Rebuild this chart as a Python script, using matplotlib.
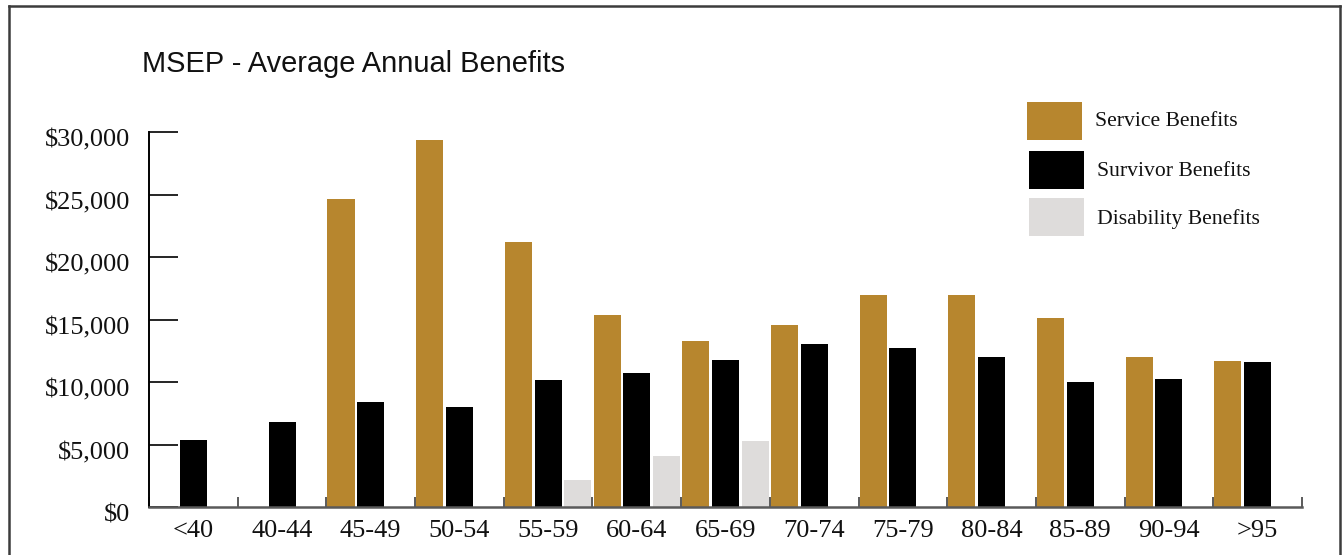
import matplotlib
matplotlib.use("Agg")
import matplotlib.pyplot as plt
import matplotlib.transforms as mtransforms
from matplotlib.patches import Rectangle
from matplotlib.lines import Line2D
from matplotlib.ticker import FuncFormatter, FixedLocator
import numpy as np

# Age groups and average annual benefit per group (dollars)
age_groups = ["<40", "40-44", "45-49", "50-54", "55-59", "60-64", "65-69",
              "70-74", "75-79", "80-84", "85-89", "90-94", ">95"]
service = [0, 0, 24640, 29360, 21190, 15350, 13270, 14550, 16950, 16950,
           15110, 11990, 11670]
survivor = [5350, 6780, 8380, 7980, 10140, 10700, 11740, 13030, 12710,
            11990, 9980, 10220, 11590]
disability = [0, 0, 0, 0, 2140, 4060, 5260, 0, 0, 0, 0, 0, 0]
series_names = ["Service Benefits", "Survivor Benefits", "Disability Benefits"]
series_colors = ["#B7862E", "#000000", "#DEDCDB"]
y_ticks = [0, 5000, 10000, 15000, 20000, 25000, 30000]

W, H = 1343, 555
fig = plt.figure(figsize=(W / 100, H / 100), dpi=100)

def fx(px):
    return px / W

def fy(py):
    return 1 - py / H

ax = fig.add_axes([fx(149), fy(507), fx(1302) - fx(149), fy(132) - fy(507)])

serif = ["Liberation Serif", "DejaVu Serif"]
sans = ["Liberation Sans", "DejaVu Sans"]

x = np.arange(len(age_groups))
width = 0.305
offsets = [0.165, 0.5, 0.835]
for vals, off, col in zip([service, survivor, disability], offsets, series_colors):
    ax.bar(x + off, vals, width=width, color=col, linewidth=0, zorder=2)

ax.set_xlim(0, len(age_groups))
ax.set_ylim(0, 30000)

# Spines
for s in ("top", "right"):
    ax.spines[s].set_visible(False)
ax.spines["left"].set_linewidth(1.4)
ax.spines["left"].set_color("#000000")
ax.spines["bottom"].set_linewidth(1.8)
ax.spines["bottom"].set_color("#5a5a5a")
ax.spines["bottom"].set_zorder(3)

# Y axis: long inward ticks, dollar labels
ax.yaxis.set_major_locator(FixedLocator(y_ticks))
ax.yaxis.set_major_formatter(FuncFormatter(lambda v, p: "${:,.0f}".format(v)))
ax.tick_params(axis="y", direction="in", length=21, width=1.2, color="#000000",
               pad=13.5, labelsize=19)
for lab in ax.get_yticklabels():
    lab.set_fontfamily(serif)
    lab.set_color("#111111")
    lab.set_transform(lab.get_transform() + mtransforms.ScaledTranslation(0, -6 / 100, fig.dpi_scale_trans))

# X axis: short inward ticks at group boundaries, labels at group centres
ax.set_xticks(np.arange(len(age_groups) + 1))
ax.set_xticklabels([])
ax.set_xticks(x + 0.5, minor=True)
ax.set_xticklabels(age_groups, minor=True)
ax.tick_params(axis="x", which="major", direction="in", length=7.5, width=1.4,
               color="#5a5a5a")
ax.tick_params(axis="x", which="minor", length=0, pad=9.5, labelsize=19)
for lab in ax.get_xticklabels(minor=True):
    lab.set_fontfamily(serif)
    lab.set_color("#111111")

# Title
fig.text(fx(142), fy(72), "MSEP - Average Annual Benefits", fontsize=20.9,
         family=sans, color="#111111", va="baseline", ha="left")

# Legend
legend_rows = [(1027, 102, 122), (1029, 151, 172), (1029, 198, 219)]
for (lx, ty, cy), name, col in zip(legend_rows, series_names, series_colors):
    fig.add_artist(Rectangle((fx(lx), fy(ty + 38)), fx(55), 38 / H,
                             transform=fig.transFigure, facecolor=col,
                             edgecolor="none"))
    fig.text(fx(lx + 68), fy(cy), name, fontsize=15.6, family=serif,
             color="#111111", va="center", ha="left")

# Outer frame
frame_kw = dict(transform=fig.transFigure, color="#3c3c3c", linewidth=1.8)
fig.add_artist(Line2D([fx(9), fx(9)], [fy(6), -0.05], **frame_kw))
fig.add_artist(Line2D([fx(9), fx(1340)], [fy(6), fy(6)], **frame_kw))
fig.add_artist(Line2D([fx(1340), fx(1340)], [fy(6), -0.05], **frame_kw))

fig.savefig("out.png", dpi=100)
